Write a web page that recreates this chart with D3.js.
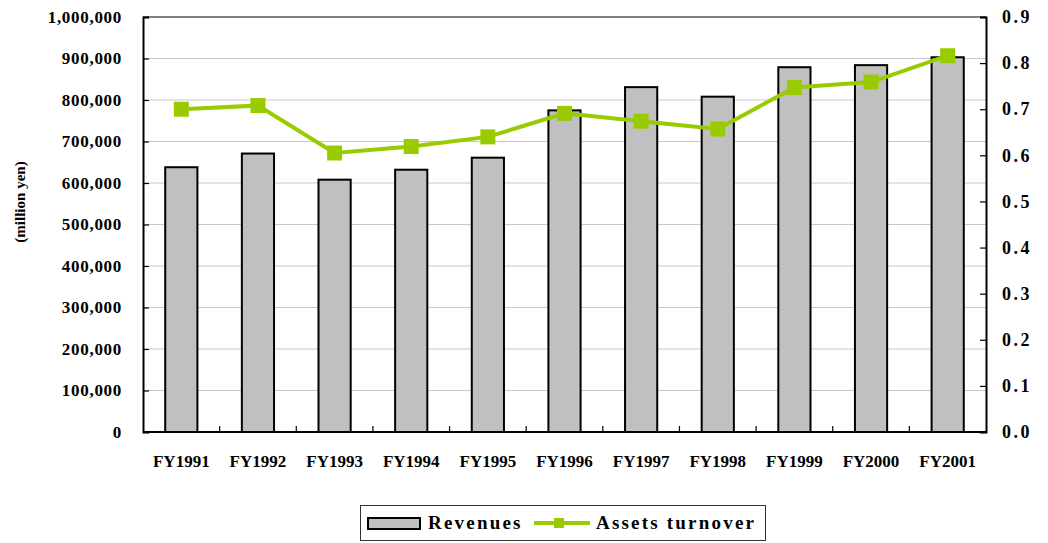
<!DOCTYPE html>
<html>
<head>
<meta charset="utf-8">
<script src="https://cdn.jsdelivr.net/npm/d3@7"></script>
<style>
  body { margin: 0; background: #fff; }
  svg text { font-family: 'Liberation Serif', 'DejaVu Serif', serif !important; font-weight: bold; fill: #000; }
</style>
</head>
<body>
<script>
// data
const years = ['FY1991', 'FY1992', 'FY1993', 'FY1994', 'FY1995', 'FY1996',
    'FY1997', 'FY1998', 'FY1999', 'FY2000', 'FY2001'];
const revenues = [638000, 671000, 608000, 632000, 661000, 775000,
    831000, 808000, 879000, 884000, 903000];
const turnover = [0.700, 0.708, 0.605, 0.619, 0.640, 0.691,
    0.674, 0.657, 0.747, 0.759, 0.816];
const leftTicks = [0, 100000, 200000, 300000, 400000, 500000, 600000, 700000, 800000, 900000, 1000000];
const rightTicks = [0, 0.1, 0.2, 0.3, 0.4, 0.5, 0.6, 0.7, 0.8, 0.9];

const width = 1048;
const height = 543;
const margin = { top: 17, right: 62, bottom: 111, left: 143 };
const chartWidth = width - margin.left - margin.right;
const chartHeight = height - margin.top - margin.bottom;

const svg = d3.select('body').append('svg')
    .attr('width', width)
    .attr('height', height);

const g = svg.append('g')
    .attr('transform', `translate(${margin.left},${margin.top})`);

const xScale = d3.scaleBand().domain(years).range([0, chartWidth]).padding(0);
const yLeft = d3.scaleLinear().domain([0, 1000000]).range([chartHeight, 0]);
const yRight = d3.scaleLinear().domain([0, 0.9]).range([chartHeight, 0]);

// grid
g.append('g')
    .selectAll('line')
    .data(leftTicks.slice(1, -1))
    .join('line')
    .attr('x1', 0).attr('x2', chartWidth)
    .attr('y1', d => yLeft(d)).attr('y2', d => yLeft(d))
    .attr('stroke', '#c8c8c8').attr('stroke-width', 1);

// top border of plot area
g.append('line')
    .attr('x1', 0).attr('x2', chartWidth)
    .attr('y1', yLeft(1000000)).attr('y2', yLeft(1000000))
    .attr('stroke', '#555').attr('stroke-width', 1.5);

// bars
const barW = xScale.bandwidth() * 0.42;
g.append('g')
    .selectAll('rect')
    .data(years)
    .join('rect')
    .attr('x', (d) => xScale(d) + (xScale.bandwidth() - barW) / 2)
    .attr('y', (d, i) => yLeft(revenues[i]))
    .attr('width', barW)
    .attr('height', (d, i) => chartHeight - yLeft(revenues[i]))
    .attr('fill', '#c0c0c0')
    .attr('stroke', '#000')
    .attr('stroke-width', 2);

// left axis
const axL = g.append('g')
    .call(d3.axisLeft(yLeft).tickValues(leftTicks).tickSize(-6).tickPadding(21)
        .tickFormat(d3.format(',')));
axL.attr('font-family', null);
axL.select('.domain').attr('stroke', '#000').attr('stroke-width', 2);
axL.selectAll('.tick line').attr('stroke', '#000').attr('stroke-width', 1.2);
axL.selectAll('text').style('font-size', '17px').style('letter-spacing', '0.7px');

// right axis
const axR = g.append('g')
    .attr('transform', `translate(${chartWidth},0)`)
    .call(d3.axisRight(yRight).tickValues(rightTicks).tickSize(-6).tickPadding(16)
        .tickFormat(d3.format('.1f')));
axR.attr('font-family', null);
axR.select('.domain').attr('stroke', '#000').attr('stroke-width', 2);
axR.selectAll('.tick line').attr('stroke', '#000').attr('stroke-width', 1.2);
axR.selectAll('text').style('font-size', '18px').style('letter-spacing', '2.5px');

// bottom axis
g.append('line')
    .attr('x1', 0).attr('x2', chartWidth)
    .attr('y1', chartHeight).attr('y2', chartHeight)
    .attr('stroke', '#000').attr('stroke-width', 2);
g.append('g')
    .selectAll('line')
    .data(years.slice(1))
    .join('line')
    .attr('x1', d => xScale(d)).attr('x2', d => xScale(d))
    .attr('y1', chartHeight).attr('y2', chartHeight - 6)
    .attr('stroke', '#000').attr('stroke-width', 1.2);
g.append('g')
    .selectAll('text')
    .data(years)
    .join('text')
    .attr('x', d => xScale(d) + xScale.bandwidth() / 2)
    .attr('y', chartHeight + 35)
    .attr('text-anchor', 'middle')
    .style('font-size', '17px')
    .text(d => d);

// line
const line = d3.line()
    .x((d, i) => xScale(years[i]) + xScale.bandwidth() / 2)
    .y(d => yRight(d));
g.append('path')
    .datum(turnover)
    .attr('fill', 'none')
    .attr('stroke', '#99cc00')
    .attr('stroke-width', 4)
    .attr('d', line);
const mk = 15;
g.append('g')
    .selectAll('rect')
    .data(turnover)
    .join('rect')
    .attr('x', (d, i) => xScale(years[i]) + xScale.bandwidth() / 2 - mk / 2)
    .attr('y', d => yRight(d) - mk / 2)
    .attr('width', mk).attr('height', mk)
    .attr('fill', '#99cc00');

// y title
svg.append('text')
    .attr('transform', 'translate(25,202) rotate(-90)')
    .attr('text-anchor', 'middle')
    .style('font-size', '15px')
    .text('(million yen)');

// legend
const lg = svg.append('g');
lg.append('rect')
    .attr('x', 360.5).attr('y', 505.5).attr('width', 405).attr('height', 35)
    .attr('fill', '#fff').attr('stroke', '#333').attr('stroke-width', 1);
lg.append('rect')
    .attr('x', 368).attr('y', 518).attr('width', 52).attr('height', 11)
    .attr('fill', '#c0c0c0').attr('stroke', '#000').attr('stroke-width', 2);
lg.append('text')
    .attr('x', 428).attr('y', 529)
    .style('font-size', '19px').style('letter-spacing', '2.2px')
    .text('Revenues');
lg.append('line')
    .attr('x1', 534).attr('x2', 590).attr('y1', 523).attr('y2', 523)
    .attr('stroke', '#99cc00').attr('stroke-width', 4);
lg.append('rect')
    .attr('x', 554).attr('y', 518).attr('width', 10).attr('height', 10)
    .attr('fill', '#99cc00');
lg.append('text')
    .attr('x', 596).attr('y', 529)
    .style('font-size', '19px').style('letter-spacing', '2.2px')
    .text('Assets turnover');
</script>
</body>
</html>
